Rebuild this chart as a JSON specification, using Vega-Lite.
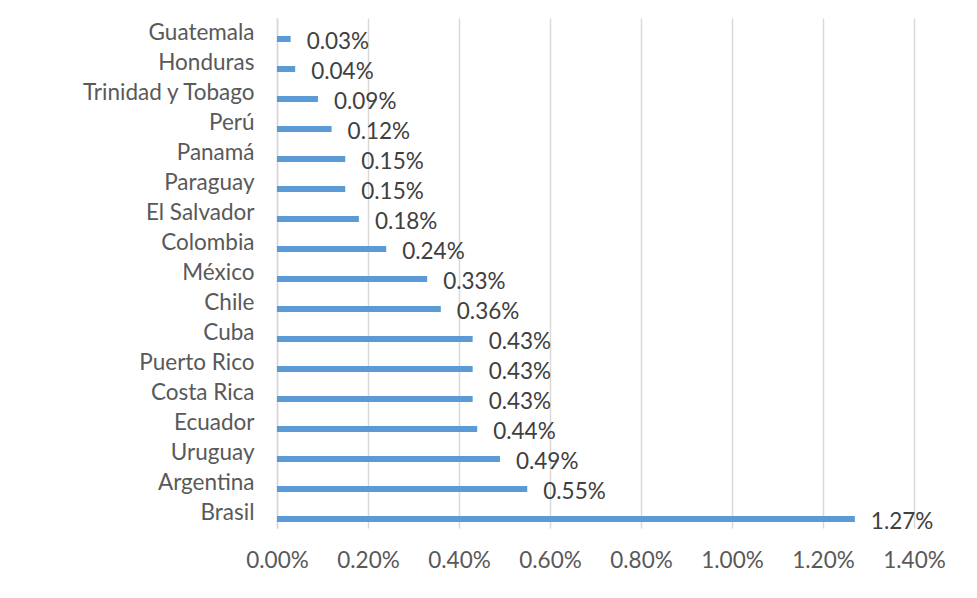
{
  "$schema": "https://vega.github.io/schema/vega-lite/v6.json",
  "width": 637,
  "height": 510,
  "autosize": {"type": "none"},
  "padding": {"left": 277, "top": 18, "right": 63, "bottom": 70},
  "background": "white",
  "config": {"view": {"stroke": null}, "font": "Lato"},
  "data": {
    "values": [
      {"pais": "Guatemala", "valor": 0.0003},
      {"pais": "Honduras", "valor": 0.0004},
      {"pais": "Trinidad y Tobago", "valor": 0.0009},
      {"pais": "Perú", "valor": 0.0012},
      {"pais": "Panamá", "valor": 0.0015},
      {"pais": "Paraguay", "valor": 0.0015},
      {"pais": "El Salvador", "valor": 0.0018},
      {"pais": "Colombia", "valor": 0.0024},
      {"pais": "México", "valor": 0.0033},
      {"pais": "Chile", "valor": 0.0036},
      {"pais": "Cuba", "valor": 0.0043},
      {"pais": "Puerto Rico", "valor": 0.0043},
      {"pais": "Costa Rica", "valor": 0.0043},
      {"pais": "Ecuador", "valor": 0.0044},
      {"pais": "Uruguay", "valor": 0.0049},
      {"pais": "Argentina", "valor": 0.0055},
      {"pais": "Brasil", "valor": 0.0127}
    ]
  },
  "encoding": {
    "y": {
      "field": "pais",
      "type": "nominal",
      "sort": null,
      "scale": {"paddingInner": 0, "paddingOuter": 0},
      "axis": {
        "title": null,
        "ticks": false,
        "domain": true,
        "domainColor": "#d9d9d9",
        "domainWidth": 1.5,
        "labelFont": "Lato",
        "labelFontSize": 22.5,
        "labelColor": "#595959",
        "labelPadding": 23
      }
    },
    "x": {
      "field": "valor",
      "type": "quantitative",
      "scale": {"domain": [0, 0.014], "nice": false},
      "axis": {
        "title": null,
        "format": ".2%",
        "values": [0, 0.002, 0.004, 0.006, 0.008, 0.01, 0.012, 0.014],
        "grid": true,
        "gridColor": "#d9d9d9",
        "gridWidth": 1.5,
        "ticks": false,
        "domain": false,
        "labelFlush": false,
        "labelFont": "Lato",
        "labelFontSize": 22.5,
        "labelColor": "#595959",
        "labelPadding": 21
      }
    }
  },
  "layer": [
    {
      "mark": {"type": "bar", "size": 6, "yOffset": 6, "color": "#5b9bd5"}
    },
    {
      "mark": {"type": "text", "align": "left", "baseline": "middle", "dx": 16, "dy": 9, "fontSize": 22.5, "color": "#404040", "font": "Lato"},
      "encoding": {
        "text": {"field": "valor", "type": "quantitative", "format": ".2%"}
      }
    }
  ]
}
